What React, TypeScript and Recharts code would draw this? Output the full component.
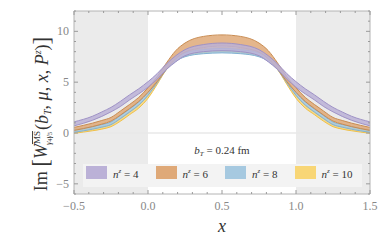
import React from "react"
import { ComposedChart, Area, XAxis, YAxis, ReferenceArea, ReferenceLine } from "recharts"

const X_VALUES = [
  -0.5, -0.375, -0.3125, -0.25, -0.1875, -0.125, -0.0625, 0, 0.0625, 0.125, 0.1875, 0.25, 0.375, 0.5,
  0.625, 0.75, 0.8125, 0.875, 0.9375, 1, 1.0625, 1.125, 1.1875, 1.25, 1.3125, 1.375, 1.5,
]

// n^z = 4
const N4_LO = [0.7, 1.25, 1.63, 2.08, 2.6, 3.25, 3.85, 4.5, 5.3, 6.25, 7.0, 7.6, 8.0, 8.1, 8.0, 7.6, 7.0, 6.25, 5.3, 4.5, 3.85, 3.25, 2.6, 2.08, 1.63, 1.25, 0.7]
const N4_HI = [1.1, 1.65, 2.07, 2.52, 3.1, 3.75, 4.35, 5.05, 5.85, 6.8, 7.6, 8.2, 8.7, 8.85, 8.7, 8.2, 7.6, 6.8, 5.85, 5.05, 4.35, 3.75, 3.1, 2.52, 2.07, 1.65, 1.1]
// n^z = 6
const N6_LO = [0.25, 0.63, 0.87, 1.17, 1.75, 2.4, 3.1, 4.0, 5.05, 6.3, 7.3, 7.95, 8.4, 8.55, 8.4, 7.95, 7.3, 6.3, 5.05, 4.0, 3.1, 2.4, 1.75, 1.17, 0.87, 0.63, 0.25]
const N6_HI = [0.55, 0.97, 1.23, 1.53, 2.15, 2.8, 3.5, 4.45, 5.55, 6.9, 8.1, 8.85, 9.5, 9.65, 9.5, 8.85, 8.1, 6.9, 5.55, 4.45, 3.5, 2.8, 2.15, 1.53, 1.23, 0.97, 0.55]
// n^z = 8
const N8_LO = [0.07, 0.37, 0.57, 0.82, 1.4, 2.05, 2.75, 3.7, 4.95, 6.25, 7.05, 7.5, 7.8, 7.88, 7.8, 7.5, 7.05, 6.25, 4.95, 3.7, 2.75, 2.05, 1.4, 0.82, 0.57, 0.37, 0.07]
const N8_HI = [0.33, 0.63, 0.83, 1.08, 1.7, 2.35, 3.05, 4.0, 5.25, 6.65, 7.45, 7.9, 8.2, 8.32, 8.2, 7.9, 7.45, 6.65, 5.25, 4.0, 3.05, 2.35, 1.7, 1.08, 0.83, 0.63, 0.33]
// n^z = 10
const N10_LO = [-0.03, 0.22, 0.38, 0.62, 1.15, 1.8, 2.45, 3.42, 4.8, 6.25, 7.1, 7.6, 7.9, 8.0, 7.9, 7.6, 7.1, 6.25, 4.8, 3.42, 2.45, 1.8, 1.15, 0.62, 0.38, 0.22, -0.03]
const N10_HI = [0.23, 0.48, 0.64, 0.88, 1.45, 2.1, 2.75, 3.78, 5.2, 6.65, 7.5, 8.0, 8.3, 8.4, 8.3, 8.0, 7.5, 6.65, 5.2, 3.78, 2.75, 2.1, 1.45, 0.88, 0.64, 0.48, 0.23]

const X_TICKS = [-0.5, -0.4, -0.3, -0.2, -0.1, 0, 0.1, 0.2, 0.3, 0.4, 0.5, 0.6, 0.7, 0.8, 0.9, 1, 1.1, 1.2, 1.3, 1.4, 1.5]
const Y_TICKS = [-6, -5, -4, -3, -2, -1, 0, 1, 2, 3, 4, 5, 6, 7, 8, 9, 10, 11, 12]

const SERIES = [
  { key: "n10", label: "10", fill: "#f8d676", stroke: "#efc04a" },
  { key: "n8", label: "8", fill: "#a6c9e0", stroke: "#82b1d2" },
  { key: "n6", label: "6", fill: "#dfa978", stroke: "#c98b50" },
  { key: "n4", label: "4", fill: "#bbb1d7", stroke: "#9f92c6" },
]

const data = X_VALUES.map((x, i) => ({
  x,
  n4: [N4_LO[i], N4_HI[i]],
  n6: [N6_LO[i], N6_HI[i]],
  n8: [N8_LO[i], N8_HI[i]],
  n10: [N10_LO[i], N10_HI[i]],
}))

const FONT = "'Liberation Serif', 'DejaVu Serif', serif"
const TICK = "#9a9a9a"
const PLOT_W = 296
const PLOT_H = 183

const fmt = (v: number) => (v < 0 ? "\u2212" : "") + Math.abs(v).toFixed(1)

function XTick(props: any) {
  const { x, y, payload } = props
  const v = payload.value
  const major = Math.abs(v * 2 - Math.round(v * 2)) < 1e-6
  const len = major ? 4 : 2
  return (
    <g>
      <line x1={x} x2={x} y1={y} y2={y - len} stroke={TICK} />
      <line x1={x} x2={x} y1={y - PLOT_H} y2={y - PLOT_H + len} stroke={TICK} />
      {major && (
        <text x={x} y={y + 16} textAnchor="middle" fontFamily={FONT} fontSize={12} fill="#888">
          {fmt(v)}
        </text>
      )}
    </g>
  )
}

function YTick(props: any) {
  const { x, y, payload } = props
  const v = payload.value
  const major = v % 5 === 0
  const len = major ? 4 : 2
  return (
    <g>
      <line x1={x} x2={x + len} y1={y} y2={y} stroke={TICK} />
      <line x1={x + PLOT_W} x2={x + PLOT_W - len} y1={y} y2={y} stroke={TICK} />
      {major && (
        <text x={x - 5} y={y + 4} textAnchor="end" fontFamily={FONT} fontSize={12} fill="#888">
          {v < 0 ? "\u2212" + Math.abs(v) : v}
        </text>
      )}
    </g>
  )
}

function Legend() {
  return (
    <div
      style={{
        position: "absolute",
        left: 83,
        top: 164,
        width: 279,
        height: 23,
        background: "#f3f3f3",
        fontFamily: FONT,
        fontSize: 11,
        color: "#333",
      }}
    >
      {[...SERIES].reverse().map((s, i) => (
        <div key={s.key} style={{ position: "absolute", left: 3 + i * 69.5, top: 0, height: 23 }}>
          <div style={{ position: "absolute", left: 0, top: 2, width: 21, height: 13, background: s.fill }} />
          <div style={{ position: "absolute", left: 27, top: 3, whiteSpace: "nowrap" }}>
            <i>n</i>
            <sup style={{ fontSize: 7, fontStyle: "italic" }}>z</sup> = {s.label}
          </div>
        </div>
      ))}
    </div>
  )
}

export default function App() {
  return (
    <div style={{ position: "absolute", left: 0, top: 0, width: 382, height: 243, background: "#fff" }}>
      <ComposedChart width={382} height={243} data={data} margin={{ top: 11, right: 12, left: 0, bottom: 0 }}>
        <ReferenceArea x1={-0.5} x2={0} y1={-6} y2={12} fill="#ebebeb" fillOpacity={1} stroke="none" zIndex={-60} />
        <ReferenceArea x1={1} x2={1.5} y1={-6} y2={12} fill="#ebebeb" fillOpacity={1} stroke="none" zIndex={-60} />
        <ReferenceLine y={0} stroke="#e9e9e9" strokeWidth={1.5} zIndex={-40} />
        <XAxis
          dataKey="x"
          type="number"
          domain={[-0.5, 1.5]}
          ticks={X_TICKS}
          interval={0}
          tick={<XTick />}
          tickSize={0}
          tickMargin={0}
          tickLine={false}
          axisLine={false}
          height={49}
          allowDataOverflow
        />
        <YAxis
          type="number"
          domain={[-6, 12]}
          ticks={Y_TICKS}
          interval={0}
          tick={<YTick />}
          tickSize={0}
          tickMargin={0}
          tickLine={false}
          axisLine={false}
          width={74}
          allowDataOverflow
        />
        {SERIES.map((s) => (
          <Area
            key={s.key}
            dataKey={s.key}
            type="monotone"
            fill={s.fill}
            fillOpacity={0.85}
            stroke={s.stroke}
            strokeWidth={1}
            isAnimationActive={false}
            dot={false}
            activeDot={false}
          />
        ))}
        <ReferenceArea x1={-0.5} x2={1.5} y1={-6} y2={12} fill="none" stroke="#b4b4b4" strokeWidth={1} zIndex={700} />
        <text x={222} y={154} textAnchor="middle" fontFamily={FONT} fontSize={11} fill="#333">
          <tspan fontStyle="italic">b</tspan>
          <tspan fontSize={7} fontStyle="italic" dy={2}>T</tspan>
          <tspan dy={-2}> = 0.24 fm</tspan>
        </text>
        <text x={222} y={232} textAnchor="middle" fontFamily={FONT} fontSize={18} fontStyle="italic" fill="#333">
          x
        </text>
        <text transform="translate(47,114) rotate(-90)" textAnchor="middle" fontFamily={FONT} fontSize={18} fill="#333">
          Im <tspan fontSize={23} dy={1}>[</tspan>
          <tspan fontStyle="italic" dy={-1}>W</tspan>
          <tspan fontSize={9} dy={-7} style={{ textDecoration: "overline" }}>MS</tspan>
          <tspan fontSize={9} fontStyle="italic" dx={-14} dy={11}>γ</tspan>
          <tspan fontSize={6} dy={1}>4</tspan>
          <tspan fontSize={9} fontStyle="italic" dy={-1}>γ</tspan>
          <tspan fontSize={6} dy={1}>5</tspan>
          <tspan dx={2} dy={-4}>(</tspan>
          <tspan fontStyle="italic">b</tspan>
          <tspan fontSize={10} fontStyle="italic" dy={3}>T</tspan>
          <tspan dy={-3}>, </tspan>
          <tspan fontStyle="italic">μ</tspan>
          <tspan>, </tspan>
          <tspan fontStyle="italic">x</tspan>
          <tspan>, </tspan>
          <tspan fontStyle="italic">P</tspan>
          <tspan fontSize={10} fontStyle="italic" dy={-7}>z</tspan>
          <tspan dy={7}>)</tspan>
          <tspan fontSize={23} dy={1}>]</tspan>
        </text>
      </ComposedChart>
      <Legend />
    </div>
  )
}
